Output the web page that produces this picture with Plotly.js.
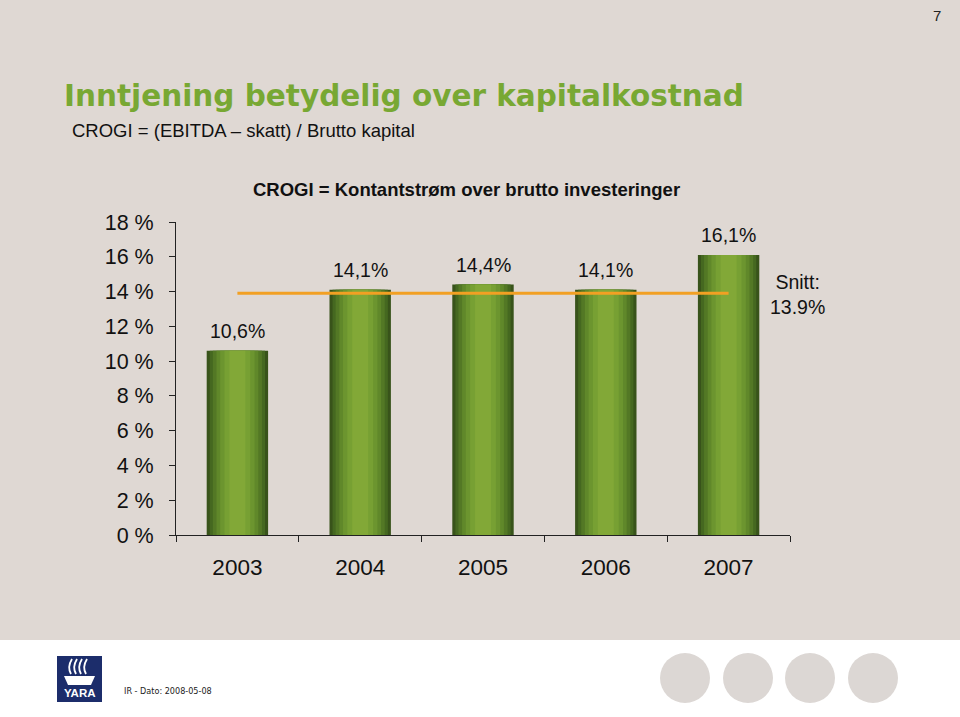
<!DOCTYPE html>
<html><head><meta charset="utf-8">
<script src="https://cdn.plot.ly/plotly-3.0.1.min.js"></script>
<style>html,body{margin:0;padding:0;background:#fff}#c{width:960px;height:717px}</style>
</head><body><div id="c"></div>
<script>
const years = ['2003','2004','2005','2006','2007'];
const crogi = [10.6, 14.1, 14.4, 14.1, 16.1];
const crogiLabels = ['10,6%','14,1%','14,4%','14,1%','16,1%'];
const average = 13.9;
const averageLabel = 'Snitt:<br>13.9%';
const yTicks = [0,2,4,6,8,10,12,14,16,18];

// Layers to imitate the horizontal gradient of each bar
const layerWidths = [0.5, 0.45, 0.40, 0.34, 0.28, 0.21, 0.13];
const layerColors = ['#38531a','#456820','#537825','#60882a','#6c952f','#77a033','#82a837'];

const W = 960, H = 717;
const L = 176, R = 790, T = 222, B = 535;
const px = x => (x - L) / (R - L);
const py = y => (B - y) / (B - T);
const FONT = 'Liberation Sans, Arial, sans-serif';

const traces = layerWidths.map((w, i) => ({
  type: 'bar', x: years, y: crogi, width: years.map(() => w),
  marker: {color: layerColors[i], line: {width: 0}},
  hoverinfo: 'skip', showlegend: false
}));
traces.push({
  type: 'scatter', mode: 'lines', x: [years[0], years[years.length-1]], y: [average, average],
  line: {color: '#f2a023', width: 3}, showlegend: false, hoverinfo: 'skip'
});

const annotations = years.map((yr, i) => ({
  x: i, y: crogi[i], xref: 'x', yref: 'y', text: crogiLabels[i], showarrow: false,
  xanchor: 'center', yanchor: 'bottom', yshift: 7, font: {family: FONT, size: 19.5, color: '#111'}
}));
annotations.push(
  {xref: 'paper', yref: 'paper', x: px(797), y: py(294), text: averageLabel, showarrow: false,
   xanchor: 'center', yanchor: 'middle', align: 'center',
   font: {family: FONT, size: 19.5, color: '#111'}},
  {xref: 'paper', yref: 'paper', x: px(466), y: py(189), text: '<b>CROGI = Kontantstrøm over brutto investeringer</b>',
   showarrow: false, xanchor: 'center', yanchor: 'middle',
   font: {family: FONT, size: 18.5, color: '#111'}},
  {xref: 'paper', yref: 'paper', x: px(70), y: py(130), text: 'CROGI = (EBITDA – skatt) / Brutto kapital',
   showarrow: false, xanchor: 'left', yanchor: 'middle',
   font: {family: FONT, size: 18.5, color: '#111'}},
  {xref: 'paper', yref: 'paper', x: px(943), y: py(15), text: '7', showarrow: false,
   xanchor: 'right', yanchor: 'middle', font: {family: FONT, size: 15, color: '#222'}},
  {xref: 'paper', yref: 'paper', x: px(122), y: py(691), text: 'IR - Dato: 2008-05-08', showarrow: false,
   xanchor: 'left', yanchor: 'middle', font: {family: 'DejaVu Sans Condensed, DejaVu Sans', size: 9, color: '#222'}},
  {xref: 'paper', yref: 'paper', x: px(79.5), y: py(693), text: '<b>YARA</b>', showarrow: false,
   xanchor: 'center', yanchor: 'middle', font: {family: FONT, size: 11.5, color: '#fff'}}
);

const shapes = [
  {type: 'rect', xref: 'paper', yref: 'paper', x0: px(-5), x1: px(965), y0: py(640), y1: py(722),
   fillcolor: '#ffffff', line: {width: 0}, layer: 'below'},
  {type: 'rect', xref: 'paper', yref: 'paper', x0: px(57), x1: px(102), y0: py(702), y1: py(656),
   fillcolor: '#1c2d6b', line: {width: 0}, layer: 'above'},
  // stylised ship on the logo
  {type: 'path', xref: 'paper', yref: 'paper',
   path: `M ${px(64)} ${py(676)} L ${px(95)} ${py(676)} L ${px(91)} ${py(685)} L ${px(68)} ${py(685)} Z`,
   fillcolor: '#ffffff', line: {width: 0}, layer: 'above'}
];
[71, 76, 81, 86].forEach(x => shapes.push({type: 'path', xref: 'paper', yref: 'paper',
  path: `M ${px(x)} ${py(674)} Q ${px(x-4)} ${py(667)} ${px(x+1)} ${py(659)}`,
  line: {color: '#ffffff', width: 1.8}, layer: 'above'}));
[685, 748, 810, 873].forEach(cx => shapes.push({type: 'circle', xref: 'paper', yref: 'paper',
  x0: px(cx-25), x1: px(cx+25), y0: py(703), y1: py(653), fillcolor: '#dcd7d4', line: {width: 0}, layer: 'below'}));

const layout = {
  width: W, height: H,
  margin: {l: L, r: W - R, t: T, b: H - B, pad: 0},
  paper_bgcolor: '#dfd8d3', plot_bgcolor: 'rgba(0,0,0,0)',
  barmode: 'overlay', showlegend: false,
  title: {text: '<b>Inntjening betydelig over kapitalkostnad</b>', xref: 'container', yref: 'container',
    x: 64/W, y: 1 - 96/H, xanchor: 'left', yanchor: 'middle',
    font: {family: 'DejaVu Sans, sans-serif', size: 29.5, color: '#78a833', weight: 'bold'}},
  xaxis: {type: 'category', range: [-0.5, 4.5], tickson: 'boundaries', ticks: 'outside', ticklen: 6,
    tickcolor: '#222', showline: true, linecolor: '#222', linewidth: 1, showgrid: false, zeroline: false,
    ticklabelstandoff: 12, tickfont: {family: FONT, size: 22.5, color: '#111'}, fixedrange: true},
  yaxis: {range: [0, 18], tickvals: yTicks, ticktext: yTicks.map(v => v + ' %'), ticks: 'outside', ticklen: 6,
    tickcolor: '#222', showline: true, linecolor: '#222', linewidth: 1, showgrid: false, zeroline: false,
    ticklabelstandoff: 11, tickfont: {family: FONT, size: 21.5, color: '#111'}, fixedrange: true},
  annotations: annotations, shapes: shapes
};

Plotly.newPlot('c', traces, layout, {displayModeBar: false, staticPlot: true});
</script></body></html>
